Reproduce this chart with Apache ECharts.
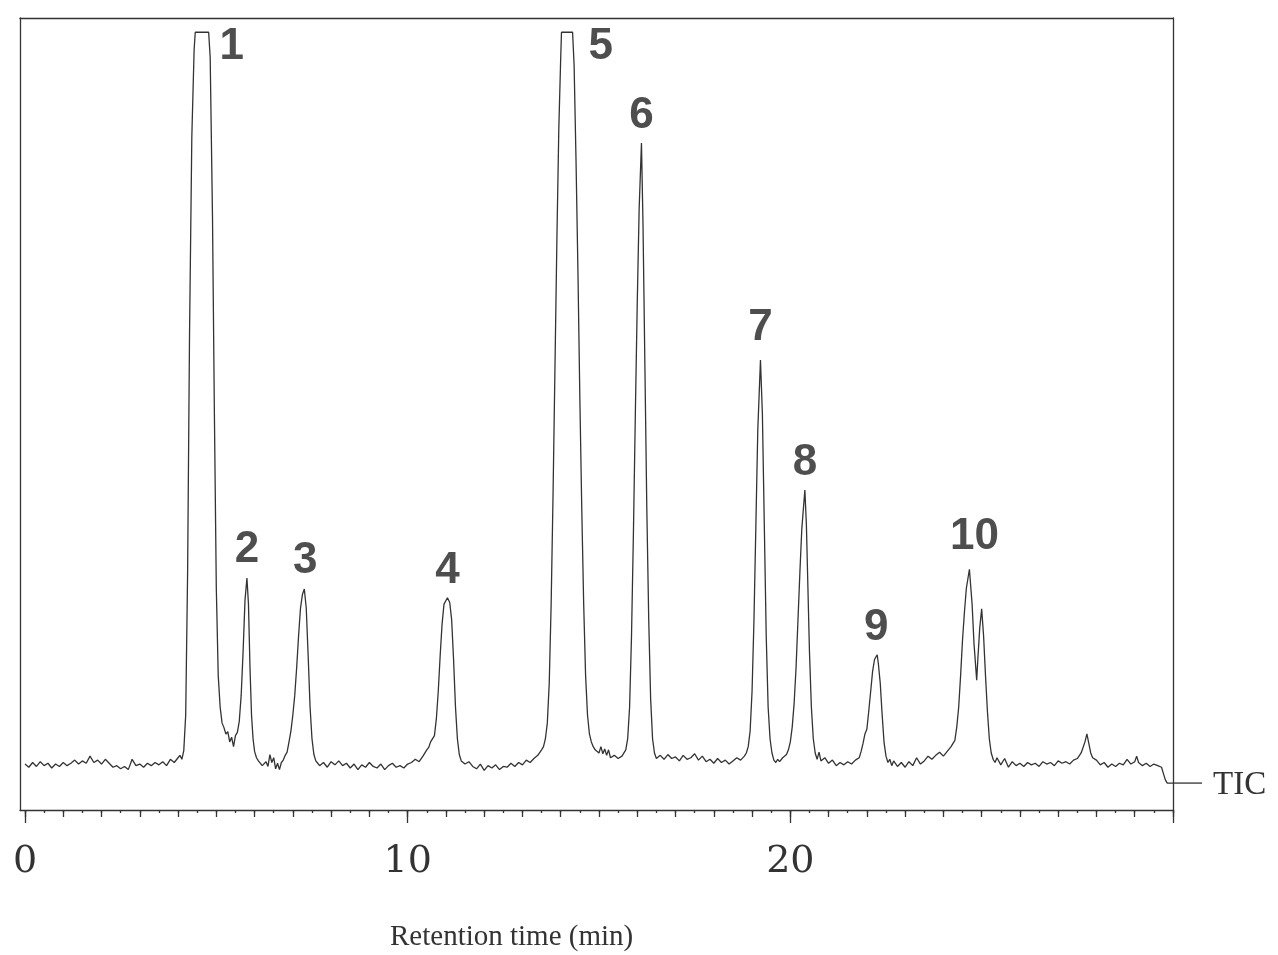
<!DOCTYPE html>
<html>
<head>
<meta charset="utf-8">
<script src="https://cdn.jsdelivr.net/npm/echarts@6/dist/echarts.min.js"></script>
<style>
html,body{margin:0;padding:0;background:#fff;}
#chart{width:1278px;height:955px;}
</style>
</head>
<body>
<div id="chart"></div>
<script>
// ---- Data (time in min, relative TIC intensity) ----
const ticTrace = [
[0.0,5.8],[0.1,5.4],[0.2,6.0],[0.3,5.5],[0.4,6.1],[0.5,5.6],[0.6,5.9],[0.7,5.3],[0.8,5.8],[0.9,5.5],
[1.0,6.0],[1.1,5.6],[1.2,5.9],[1.3,6.3],[1.4,5.8],[1.5,6.2],[1.6,5.9],[1.7,6.8],[1.8,6.0],[1.9,6.3],
[2.0,5.8],[2.1,6.4],[2.2,5.9],[2.3,5.4],[2.4,5.6],[2.5,5.2],[2.6,5.5],[2.7,5.1],[2.8,6.4],[2.9,5.6],
[3.0,5.8],[3.1,5.4],[3.2,5.9],[3.3,5.6],[3.4,6.0],[3.5,5.7],[3.6,6.1],[3.7,5.6],[3.8,6.4],[3.9,6.0],
[4.0,6.6],[4.05,6.9],[4.1,6.4],[4.15,7.5],[4.2,12.0],[4.25,30.0],[4.3,60.0],[4.36,85.0],[4.42,96.0],
[4.45,98.2],[4.80,98.2],[4.84,95.0],[4.9,75.0],[4.95,50.0],[5.0,28.0],[5.05,17.0],[5.1,13.0],
[5.15,11.0],[5.2,10.4],[5.25,9.6],[5.3,9.9],[5.35,8.6],[5.4,9.2],[5.45,8.0],[5.5,9.4],[5.55,9.8],
[5.6,11.2],[5.65,14.5],[5.7,20.0],[5.75,26.5],[5.8,29.3],[5.84,26.0],[5.88,18.0],[5.92,12.0],
[5.96,9.0],[6.0,7.4],[6.05,6.6],[6.1,6.2],[6.15,6.0],[6.2,5.6],[6.3,6.1],[6.35,5.5],[6.4,7.0],
[6.45,6.0],[6.5,6.6],[6.55,5.2],[6.6,5.9],[6.65,5.1],[6.7,6.0],[6.75,6.3],[6.8,6.9],[6.85,7.3],
[6.9,8.6],[6.95,10.0],[7.0,12.0],[7.05,14.5],[7.1,18.0],[7.15,22.0],[7.2,25.5],[7.25,27.2],
[7.3,27.9],[7.35,25.5],[7.4,19.5],[7.45,13.0],[7.5,9.0],[7.55,7.0],[7.6,6.2],[7.65,5.9],
[7.7,5.6],[7.8,6.0],[7.9,5.4],[8.0,6.1],[8.1,5.7],[8.2,6.2],[8.3,5.6],[8.4,5.9],[8.5,5.3],
[8.6,5.8],[8.7,5.1],[8.8,5.7],[8.9,5.4],[9.0,6.0],[9.1,5.5],[9.2,5.3],[9.3,5.8],[9.4,5.1],
[9.5,5.6],[9.6,5.9],[9.7,5.4],[9.8,5.6],[9.9,5.3],[10.0,5.8],[10.1,6.0],[10.2,6.4],[10.3,6.1],
[10.4,6.8],[10.5,7.6],[10.55,7.9],[10.6,8.6],[10.7,9.4],[10.75,11.5],[10.8,15.0],[10.85,19.5],
[10.9,23.5],[10.95,26.0],[11.04,26.8],[11.1,26.2],[11.15,24.0],[11.2,19.0],[11.25,13.0],
[11.3,9.0],[11.35,7.0],[11.4,6.2],[11.45,6.4],[11.5,5.8],[11.6,6.1],[11.7,5.5],[11.8,5.2],
[11.9,5.8],[12.0,5.0],[12.1,5.6],[12.2,5.3],[12.3,5.7],[12.4,5.1],[12.5,5.5],[12.6,5.4],
[12.7,5.9],[12.8,5.5],[12.9,6.0],[13.0,5.7],[13.1,6.3],[13.2,6.0],[13.3,6.5],[13.4,6.9],
[13.5,7.6],[13.55,8.0],[13.6,9.0],[13.65,11.0],[13.7,16.0],[13.75,26.0],[13.8,40.0],[13.85,56.0],
[13.9,72.0],[13.95,86.0],[14.0,95.0],[14.02,98.2],[14.31,98.2],[14.35,94.0],[14.4,82.0],
[14.45,68.0],[14.5,52.0],[14.55,38.0],[14.6,26.0],[14.65,17.0],[14.7,12.0],[14.75,9.6],
[14.8,8.6],[14.85,8.0],[14.9,7.6],[15.0,7.2],[15.05,8.0],[15.1,7.1],[15.15,7.7],[15.2,6.9],
[15.25,7.6],[15.3,6.6],[15.4,6.9],[15.5,6.5],[15.6,6.8],[15.7,7.6],[15.75,9.0],[15.8,13.0],
[15.85,22.0],[15.9,35.0],[15.95,50.0],[16.0,64.0],[16.05,76.0],[16.11,84.2],[16.15,74.0],
[16.2,56.0],[16.25,38.0],[16.3,24.0],[16.35,14.0],[16.4,9.0],[16.45,7.2],[16.5,6.5],
[16.6,6.9],[16.7,6.4],[16.8,7.0],[16.9,6.5],[17.0,6.7],[17.1,6.2],[17.2,6.9],[17.3,6.4],
[17.4,6.6],[17.5,7.1],[17.6,6.3],[17.7,6.8],[17.8,6.1],[17.9,6.4],[18.0,5.9],[18.1,6.5],
[18.2,6.0],[18.3,6.3],[18.4,5.8],[18.5,6.2],[18.6,6.6],[18.7,6.3],[18.8,6.8],[18.85,7.2],
[18.9,8.0],[18.95,10.0],[19.0,15.0],[19.05,24.0],[19.1,36.0],[19.15,48.0],[19.22,56.8],
[19.27,50.0],[19.32,36.0],[19.37,22.0],[19.42,13.0],[19.47,9.0],[19.52,7.2],[19.57,6.3],
[19.62,6.0],[19.67,6.4],[19.72,6.1],[19.8,6.6],[19.85,6.4],[19.9,7.0],
[19.95,7.6],[20.0,8.6],[20.05,10.5],[20.1,13.5],[20.15,18.0],[20.2,24.0],[20.25,30.0],
[20.3,35.5],[20.38,40.4],[20.42,36.0],[20.46,28.0],[20.5,20.0],[20.55,13.0],[20.6,9.0],
[20.65,7.2],[20.7,6.4],[20.75,7.3],[20.8,6.2],[20.9,6.6],[21.0,5.9],[21.1,6.3],[21.2,5.6],
[21.3,6.0],[21.4,5.7],[21.5,6.1],[21.6,5.8],[21.7,6.3],[21.8,6.6],[21.85,7.4],[21.9,8.4],
[21.95,9.6],[22.0,10.2],[22.05,12.5],[22.1,15.0],[22.15,17.5],[22.2,19.0],[22.27,19.6],
[22.3,18.5],[22.35,16.0],[22.4,12.0],[22.45,8.5],[22.5,6.8],[22.55,6.0],[22.6,6.4],[22.65,5.6],
[22.7,6.2],[22.8,5.5],[22.9,6.0],[23.0,5.4],[23.1,6.1],[23.2,5.6],[23.3,6.6],[23.4,5.8],
[23.5,6.2],[23.6,6.8],[23.7,6.4],[23.8,6.9],[23.9,7.3],[24.0,6.8],[24.1,7.4],[24.2,8.0],
[24.3,8.8],[24.35,10.5],[24.4,13.0],[24.45,17.0],[24.5,21.5],[24.55,25.0],[24.6,28.0],
[24.68,30.4],[24.75,26.0],[24.8,21.0],[24.87,16.4],[24.9,19.0],[24.95,23.0],[25.0,25.4],
[25.05,22.0],[25.1,17.0],[25.15,12.5],[25.2,9.0],[25.25,7.2],[25.3,6.4],[25.35,6.0],[25.4,6.6],
[25.5,5.7],[25.6,6.5],[25.7,5.4],[25.8,6.1],[25.9,5.6],[26.0,5.9],[26.1,5.5],[26.2,6.0],
[26.3,5.7],[26.4,5.9],[26.5,5.5],[26.6,6.1],[26.7,5.8],[26.8,6.0],[26.9,5.6],[27.0,6.2],
[27.1,5.9],[27.2,6.1],[27.3,5.8],[27.4,6.3],[27.5,6.5],[27.6,7.2],[27.7,8.6],[27.75,9.6],
[27.8,8.4],[27.85,7.2],[27.9,6.6],[28.0,6.3],[28.1,5.7],[28.2,6.0],[28.3,5.4],[28.4,5.8],
[28.5,5.5],[28.6,5.9],[28.7,5.7],[28.8,6.4],[28.9,5.8],[29.0,6.1],[29.05,6.8],[29.1,6.0],
[29.2,5.6],[29.3,5.9],[29.4,5.5],[29.5,5.8],[29.6,5.6],[29.7,5.4],[29.75,4.6],[29.8,3.8],
[29.85,3.4],[30.0,3.4]
];

const peakIds   = ['1','2','3','4','5','6','7','8','9','10'];
const peakTimes = [4.62, 5.80, 7.30, 11.04, 14.16, 16.11, 19.22, 20.38, 22.27, 24.68];
const peakTops  = [98.2, 29.3, 27.9, 26.8, 98.2, 84.2, 56.8, 40.4, 19.6, 30.4];

const majorTicks = [0, 10, 20, 30];
const tickLabels = [0, 10, 20];
const traceName = 'TIC';
const xTitle = 'Retention time (min)';

// axis tick positions (every 1 min and every 0.5 min)
const minuteTicks = [];
for (let m = 0; m <= 30; m++) minuteTicks.push(m);
const halfTicks = [];
for (let h = 0; h <= 60; h++) halfTicks.push(h / 2);

// ---- styles ----
const ink = '#333';
const labelOffsets = [[30,15],[0,-28],[1,-28],[0,-27],[34,15],[0,-27],[0,-32],[0,-27],[-1,-27],[5,-32]];

const X_MIN = -0.13, X_MAX = 30;
const gridRect = {left: 20, right: 105, top: 18, bottom: 145};

const chart = echarts.init(document.getElementById('chart'), null, {renderer: 'canvas'});

function hiddenY(gi){ return {type:'value', gridIndex: gi, min:0, max:100, show:false}; }
const frameLine = {show:true, onZero:false, lineStyle:{color:ink, width:1.3}};

const option = {
  backgroundColor: '#fff',
  animation: false,
  title: {
    text: xTitle, left: 385, top: 918,
    textStyle: {fontFamily: 'Liberation Serif', fontSize: 29, fontWeight: 'normal', color: ink}
  },
  grid: [
    Object.assign({}, gridRect),
    Object.assign({}, gridRect),
    Object.assign({}, gridRect)
  ],
  xAxis: [
    { type:'value', gridIndex:0, position:'bottom', min:X_MIN, max:X_MAX,
      axisLine: frameLine,
      axisTick:{show:true, customValues: halfTicks, length:3, lineStyle:{color:ink, width:1.3}},
      axisLabel:{show:false}, splitLine:{show:false} },
    { type:'value', gridIndex:0, position:'top', min:X_MIN, max:X_MAX,
      axisLine: frameLine,
      axisTick:{show:false}, axisLabel:{show:false}, splitLine:{show:false} },
    { type:'value', gridIndex:1, position:'bottom', min:X_MIN, max:X_MAX,
      axisLine:{show:false, onZero:false},
      axisTick:{show:true, customValues: minuteTicks, length:7, lineStyle:{color:ink, width:1.3}},
      axisLabel:{show:false}, splitLine:{show:false} },
    { type:'value', gridIndex:2, position:'bottom', min:X_MIN, max:X_MAX,
      axisLine:{show:false, onZero:false},
      axisTick:{show:true, customValues: majorTicks, length:13, lineStyle:{color:ink, width:1.3}},
      axisLabel:{show:true, customValues: tickLabels, margin:33,
        fontFamily:'DejaVu Serif', fontSize:38, color:ink},
      splitLine:{show:false} }
  ],
  yAxis: [
    { type:'value', gridIndex:0, position:'left', min:0, max:100,
      axisLine: frameLine,
      axisTick:{show:false}, axisLabel:{show:false}, splitLine:{show:false} },
    { type:'value', gridIndex:0, position:'right', min:0, max:100,
      axisLine: frameLine,
      axisTick:{show:false}, axisLabel:{show:false}, splitLine:{show:false} },
    hiddenY(1), hiddenY(2)
  ],
  series: [
    { name: traceName, type:'line', xAxisIndex:0, yAxisIndex:0,
      data: ticTrace, showSymbol:false, symbol:'none', smooth:false,
      lineStyle:{color:ink, width:1.3}, z:3 },
    { name:'peaks', type:'scatter', xAxisIndex:0, yAxisIndex:0,
      symbolSize:0, silent:true, z:4,
      data: peakIds.map((id, i) => ({
        value:[peakTimes[i], peakTops[i]], name:id,
        label:{offset: labelOffsets[i]}
      })),
      label:{show:true, position:'inside', formatter: p => p.name,
        fontFamily:'Liberation Sans', fontWeight:'bold', fontSize:44, color:'#222'} }
  ]
};
chart.setOption(option);

// trace-name tag at the end of the trace
const last = ticTrace[ticTrace.length - 1];
const endPx = chart.convertToPixel({xAxisIndex:0, yAxisIndex:0}, last);
chart.setOption({
  graphic: [
    { type:'line', shape:{x1:endPx[0], y1:endPx[1], x2:endPx[0] + 29, y2:endPx[1]},
      style:{stroke:ink, lineWidth:1.3} },
    { type:'text', x:endPx[0] + 40, y:endPx[1] + 2,
      style:{text: traceName, fill: ink, font:'33px "Liberation Serif"', textVerticalAlign:'middle', verticalAlign:'middle'} }
  ]
});
</script>
</body>
</html>
